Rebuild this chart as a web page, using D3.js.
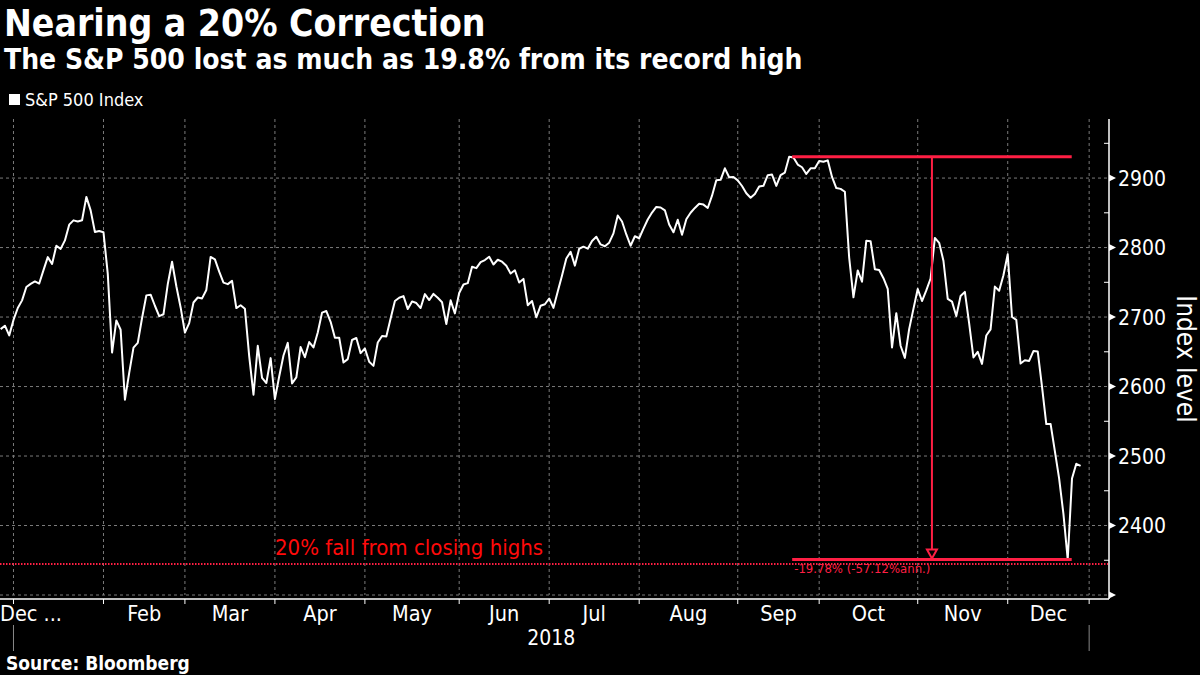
<!DOCTYPE html>
<html>
<head>
<meta charset="utf-8">
<script src="https://cdn.jsdelivr.net/npm/d3@7"></script>
<style>
  html, body { margin: 0; padding: 0; background: #000; }
  svg { display: block; }
  text { font-family: 'DejaVu Sans Condensed', 'DejaVu Sans', sans-serif; font-stretch: condensed; }
</style>
</head>
<body>
<svg id="chart" width="1200" height="675"></svg>
<script>
// ---- Data (S&P 500 daily closes, Dec 27 2017 .. Dec 28 2018, trading-day index) ----
const seriesName = "S&P 500 Index";
const closes = [
  2682.62, 2687.54, 2673.61,
  // Jan
  2695.81, 2713.06, 2723.99, 2743.15, 2747.71, 2751.29, 2748.23, 2767.56, 2786.24, 2776.42,
  2802.56, 2798.03, 2810.30, 2832.97, 2839.13, 2837.54, 2839.25, 2872.87, 2853.53, 2822.43, 2823.81,
  // Feb
  2821.98, 2762.13, 2648.94, 2695.14, 2681.66, 2581.00, 2619.55, 2656.00, 2662.94, 2698.63,
  2731.20, 2732.22, 2716.26, 2701.33, 2703.96, 2747.30, 2779.60, 2744.28, 2713.83,
  // Mar
  2677.67, 2691.25, 2720.94, 2728.12, 2726.80, 2738.97, 2786.57, 2783.02, 2765.31, 2749.48,
  2747.33, 2752.01, 2712.92, 2716.94, 2711.93, 2643.69, 2588.26, 2658.55, 2612.62, 2605.00, 2640.87,
  // Apr
  2581.88, 2614.45, 2644.69, 2662.84, 2604.47, 2613.16, 2656.87, 2642.19, 2663.99, 2656.30,
  2677.84, 2706.39, 2708.64, 2693.13, 2670.14, 2670.29, 2634.56, 2639.40, 2666.94, 2669.91, 2648.05,
  // May
  2654.80, 2635.67, 2629.73, 2663.42, 2672.63, 2671.92, 2697.79, 2723.07, 2727.72, 2730.13, 2711.45,
  2722.46, 2720.13, 2712.97, 2733.01, 2724.44, 2733.29, 2727.76, 2721.33, 2689.86, 2724.01, 2705.27,
  // Jun
  2734.62, 2746.87, 2748.80, 2772.35, 2770.37, 2779.03, 2782.00, 2786.85, 2775.63, 2782.49,
  2779.66, 2773.75, 2762.59, 2767.32, 2749.76, 2754.88, 2717.07, 2723.06, 2699.63, 2716.31, 2718.37,
  // Jul
  2726.71, 2713.22, 2736.61, 2759.82, 2784.17, 2793.84, 2774.02, 2798.29, 2801.31, 2798.43,
  2809.55, 2815.62, 2804.49, 2801.83, 2806.98, 2820.40, 2846.07, 2837.44, 2818.82, 2802.60, 2816.29,
  // Aug
  2813.36, 2827.22, 2840.35, 2850.40, 2858.45, 2857.70, 2853.58, 2833.28, 2821.93, 2839.96, 2818.37,
  2840.69, 2850.13, 2857.05, 2862.96, 2861.82, 2856.98, 2874.69, 2896.74, 2897.52, 2914.04, 2901.13, 2901.52,
  // Sep
  2896.72, 2888.60, 2878.05, 2871.68, 2877.13, 2887.89, 2888.92, 2904.18, 2904.98, 2888.80,
  2904.31, 2907.95, 2930.75, 2929.67, 2919.37, 2915.56, 2905.97, 2914.00, 2913.98,
  // Oct
  2924.59, 2923.43, 2925.51, 2901.61, 2885.57, 2884.43, 2880.34, 2785.68, 2728.37, 2767.13, 2750.79,
  2809.92, 2809.21, 2768.78, 2767.78, 2755.88, 2740.69, 2656.10, 2705.57, 2658.69, 2641.25, 2682.63, 2711.74,
  // Nov
  2740.37, 2723.06, 2738.31, 2755.45, 2813.89, 2806.83, 2781.01, 2726.22, 2722.18, 2701.58, 2730.20,
  2736.27, 2690.73, 2641.89, 2649.93, 2632.56, 2673.45, 2682.17, 2743.79, 2737.80, 2760.17,
  // Dec
  2790.37, 2700.06, 2695.95, 2633.08, 2637.72, 2636.78, 2651.07, 2650.54, 2599.95, 2545.94,
  2546.16, 2506.96, 2467.42, 2416.62, 2351.10, 2467.70, 2488.83, 2485.74
];
// first trading day index of each month (month boundaries on the axis)
const monthStartIdx = [3, 24, 43, 64, 85, 107, 128, 149, 172, 191, 214, 235, 254];
const monthLabels   = [null, "Feb", "Mar", "Apr", "May", "Jun", "Jul", "Aug", "Sep", "Oct", "Nov", "Dec"];
const firstLabel = "Dec ...";
const yearLabel = "2018";
const yMajorTicks = [2300, 2400, 2500, 2600, 2700, 2800, 2900];
const yMinorTicks = [2350, 2450, 2550, 2650, 2750, 2850, 2950];
const annText = "-19.78% (-57.12%ann.)";
const fallText = "20% fall from closing highs";

// ---- Layout ----
const svg = d3.select("#chart");
const plot = { left: 0, right: 1108, top: 119, bottom: 595, axisY: 599 };
const x = d3.scaleLinear().domain([-0.15, 258.4]).range([plot.left, plot.right]);
const y = d3.scaleLinear().domain([2300, 2985]).range([plot.bottom, plot.top]);

const RED = "#ff1f44";
const GRID = "#7a7a7a";

// Titles
svg.append("text").attr("x", 4).attr("y", 36).attr("fill", "#fff")
  .attr("font-size", 37).attr("font-weight", "bold").text("Nearing a 20% Correction");
svg.append("text").attr("x", 4).attr("y", 69).attr("fill", "#fff")
  .attr("font-size", 28).attr("font-weight", "bold").text("The S&P 500 lost as much as 19.8% from its record high");

// Legend
svg.append("rect").attr("x", 9).attr("y", 94).attr("width", 11).attr("height", 11).attr("fill", "#fff");
svg.append("text").attr("x", 25).attr("y", 106).attr("fill", "#fff").attr("font-size", 18).text(seriesName);

// Grid
const g = svg.append("g");
g.selectAll("line.hgrid").data(yMajorTicks).join("line")
  .attr("x1", plot.left).attr("x2", plot.right)
  .attr("y1", d => y(d)).attr("y2", d => y(d))
  .attr("stroke", GRID).attr("stroke-width", 1).attr("stroke-dasharray", "3,3");
g.selectAll("line.vgrid").data(monthStartIdx).join("line")
  .attr("x1", d => x(d)).attr("x2", d => x(d))
  .attr("y1", plot.top).attr("y2", plot.bottom)
  .attr("stroke", GRID).attr("stroke-width", 1).attr("stroke-dasharray", "3,3");

// 20% fall dotted line
const hi = d3.max(closes);
const hiIdx = closes.indexOf(hi);
const lo = d3.min(closes.slice(hiIdx));
const loIdx = closes.indexOf(lo, hiIdx);
const fallLevel = hi * 0.8;
g.append("line").attr("x1", plot.left).attr("x2", plot.right)
  .attr("y1", y(fallLevel)).attr("y2", y(fallLevel))
  .attr("stroke", RED).attr("stroke-width", 2).attr("stroke-dasharray", "1.5,1.5");
g.append("text").attr("x", 275).attr("y", 555).attr("fill", "#ff0a0a")
  .attr("font-size", 22).text(fallText);

// Line
const line = d3.line().x((d, i) => x(i)).y(d => y(d));
g.append("path").datum(closes).attr("d", line)
  .attr("fill", "none").attr("stroke", "#fff").attr("stroke-width", 2).attr("stroke-linejoin", "round");

// Drawdown annotation
const xa = x(hiIdx) + 3, xb = x(loIdx) + 4;
g.append("line").attr("x1", xa).attr("x2", xb).attr("y1", y(hi)).attr("y2", y(hi))
  .attr("stroke", RED).attr("stroke-width", 3);
g.append("line").attr("x1", xa).attr("x2", xb).attr("y1", y(lo)).attr("y2", y(lo))
  .attr("stroke", RED).attr("stroke-width", 3);
const xm = (xa + xb) / 2;
g.append("line").attr("x1", xm).attr("x2", xm).attr("y1", y(hi)).attr("y2", y(lo) - 9)
  .attr("stroke", RED).attr("stroke-width", 2);
g.append("path")
  .attr("d", `M${xm - 5},${y(lo) - 10} L${xm + 5},${y(lo) - 10} L${xm},${y(lo) - 1} Z`)
  .attr("fill", "#000").attr("stroke", RED).attr("stroke-width", 2);
g.append("text").attr("x", xa + 2).attr("y", y(lo) + 14).attr("fill", RED)
  .attr("font-size", 13).text(annText);

// Right axis
const ax = plot.right + 1;
svg.append("line").attr("x1", ax).attr("x2", ax).attr("y1", plot.top).attr("y2", plot.axisY)
  .attr("stroke", "#fff").attr("stroke-width", 1.5);
svg.selectAll("path.ytri").data(yMajorTicks).join("path")
  .attr("d", d => `M${ax},${y(d) - 3.5} L${ax + 7},${y(d)} L${ax},${y(d) + 3.5} Z`)
  .attr("fill", "#fff");
svg.selectAll("line.yminor").data(yMinorTicks).join("line")
  .attr("x1", ax - 5).attr("x2", ax).attr("y1", d => y(d)).attr("y2", d => y(d))
  .attr("stroke", "#fff").attr("stroke-width", 1);
svg.selectAll("text.ylab").data(yMajorTicks.filter(d => d > 2300)).join("text")
  .attr("x", ax + 9).attr("y", d => y(d) + 7.5).attr("fill", "#fff")
  .attr("font-size", 21).text(d => d);
svg.append("text").attr("transform", `translate(1177,359) rotate(90)`)
  .attr("text-anchor", "middle").attr("fill", "#fff").attr("font-size", 26).text("Index level");

// Bottom axis
svg.append("line").attr("x1", plot.left).attr("x2", ax).attr("y1", plot.axisY).attr("y2", plot.axisY)
  .attr("stroke", "#fff").attr("stroke-width", 1.5);
svg.selectAll("line.xtick").data(monthStartIdx).join("line")
  .attr("x1", d => x(d)).attr("x2", d => x(d))
  .attr("y1", plot.axisY).attr("y2", plot.axisY + 5)
  .attr("stroke", "#fff").attr("stroke-width", 1);
svg.selectAll("text.xlab").data(monthLabels.map((l, i) => ({ l, i })).filter(d => d.l)).join("text")
  .attr("x", d => (x(monthStartIdx[d.i]) + x(monthStartIdx[d.i + 1])) / 2)
  .attr("y", 621).attr("text-anchor", "middle").attr("fill", "#fff").attr("font-size", 21.5)
  .text(d => d.l);
svg.append("text").attr("x", 0).attr("y", 621).attr("fill", "#fff").attr("font-size", 21.5).text(firstLabel);
svg.append("text").attr("x", (x(monthStartIdx[0]) + x(monthStartIdx[12])) / 2).attr("y", 645)
  .attr("text-anchor", "middle").attr("fill", "#fff").attr("font-size", 21).text(yearLabel);
[monthStartIdx[0], monthStartIdx[12]].forEach(i => {
  svg.append("line").attr("x1", x(i)).attr("x2", x(i)).attr("y1", 625).attr("y2", 651)
    .attr("stroke", "#888").attr("stroke-width", 1);
});

// Source
svg.append("text").attr("x", 6).attr("y", 670).attr("fill", "#fff")
  .attr("font-size", 19).attr("font-weight", "bold").text("Source: Bloomberg");
</script>
</body>
</html>
